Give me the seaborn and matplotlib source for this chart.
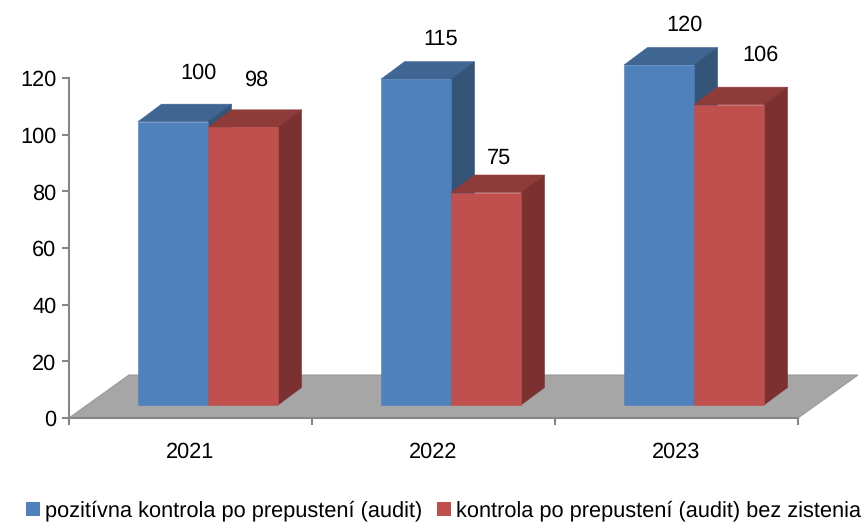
import matplotlib
matplotlib.use("Agg")
import matplotlib.pyplot as plt
from matplotlib.patches import Polygon, Patch
import pandas as pd
import seaborn as sns

years = ["2021", "2022", "2023"]
series_names = ["pozitívna kontrola po prepustení (audit)",
                "kontrola po prepustení (audit) bez zistenia"]
positive = [100, 115, 120]
no_finding = [98, 75, 106]
y_ticks = [0, 20, 40, 60, 80, 100, 120]

W, H = 868, 524
sns.set_theme(style="white")
plt.rcParams["font.family"] = ["Liberation Sans", "DejaVu Sans"]
plt.rcParams["text.hinting"] = "no_hinting"
FS = 15.7

df = pd.DataFrame({
    "year": years * 2,
    "series": [series_names[0]] * 3 + [series_names[1]] * 3,
    "value": positive + no_finding,
})

front = ["#4F81BD", "#C0504D"]
top = ["#3F6592", "#8F3B39"]
side = ["#345478", "#7A3130"]
GREY = "#868686"

fig = plt.figure(figsize=(W / 100, H / 100), dpi=100)
ax = fig.add_axes([69 / W, 1 - 418 / H, 729 / W, 340 / H])
PX_X = 243
PX_Y = 340 / 120
base = 13 / PX_Y
shift = 17.5 / PX_X
sns.barplot(data=df, x="year", y="value", hue="series", hue_order=series_names,
            palette=front, width=140 / PX_X, gap=0, bottom=base, ax=ax,
            legend=False, saturation=1, linewidth=0, zorder=3)
xmin = -0.5 - shift
ax.set_xlim(xmin, xmin + 3)
ax.set_ylim(0, 120)

# floor
ddx, ddy = 60 / PX_X, 43 / PX_Y
ax.add_patch(Polygon([(xmin, 0), (xmin + 3, 0), (xmin + 3 + ddx, ddy), (xmin + ddx, ddy)],
                     closed=True, fc="#A6A6A6", ec="#999999", lw=0.8, clip_on=False, zorder=1))

# 3D faces derived from the drawn bars
dx, dy = 23.5 / PX_X, 17.5 / PX_Y
label_off = [[(25, 49), (25, 40), (25, 40)], [(14, 47), (13, 34), (31, 50)]]
for i, cont in enumerate(ax.containers):
    z = 3 + i * 2
    for j, b in enumerate(cont):
        x0, x1 = b.get_x(), b.get_x() + b.get_width()
        y0, y1 = b.get_y(), b.get_y() + b.get_height()
        b.set_zorder(z + 1)
        b.set_clip_on(False)
        b.set_edgecolor(front[i])
        b.set_linewidth(0.4)
        ax.add_patch(Polygon([(x0, y1), (x1, y1), (x1 + dx, y1 + dy), (x0 + dx, y1 + dy)],
                             fc=top[i], ec=top[i], lw=0.4, clip_on=False, zorder=z))
        ax.add_patch(Polygon([(x1, y0), (x1 + dx, y0 + dy), (x1 + dx, y1 + dy), (x1, y1)],
                             fc=side[i], ec=side[i], lw=0.4, clip_on=False, zorder=z))
        ox, oy = label_off[i][j]
        ax.annotate(str(int(b.get_height())), ((x0 + x1) / 2, y1),
                    xytext=(ox * 0.72, oy * 0.72), textcoords="offset points",
                    ha="center", va="center", fontsize=FS, color="black",
                    annotation_clip=False, zorder=10)

# axes
for s in ["top", "right"]:
    ax.spines[s].set_visible(False)
for s in ["left", "bottom"]:
    ax.spines[s].set_color(GREY)
    ax.spines[s].set_linewidth(1.5)
    ax.spines[s].set_zorder(2)
ax.set_yticks(y_ticks)
ax.set_yticklabels([str(v) for v in y_ticks], fontsize=FS, color="black")
ax.set_xticks([xmin + k for k in range(4)], labels=[""] * 4)
ax.set_xticks([xmin + 0.5 + k for k in range(3)], labels=years, minor=True, fontsize=FS, color="black")
ax.tick_params(axis="x", which="major", length=5, width=1.5, color=GREY, direction="out", bottom=True)
ax.tick_params(axis="x", which="minor", length=0, pad=17)
ax.tick_params(axis="y", length=5, width=1.5, color=GREY, direction="out", pad=4, left=True)
ax.set_xlabel("")
ax.set_ylabel("")

handles = [Patch(fc=front[i], ec="none", label=series_names[i]) for i in range(2)]
fig.legend(handles=handles, loc="center left", bbox_to_anchor=(26 / W, 1 - 511 / H), ncol=2,
           frameon=False, fontsize=FS, handlelength=0.64, handleheight=0.64,
           handletextpad=0.23, columnspacing=0.69, borderpad=0, borderaxespad=0,
           labelcolor="black")

fig.savefig("out.png", dpi=100, facecolor="white")
